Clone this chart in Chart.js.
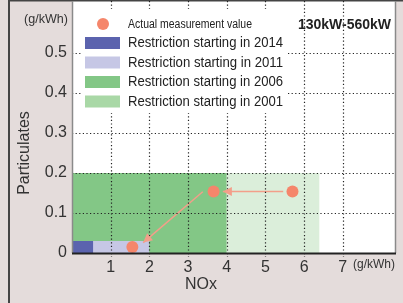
<!DOCTYPE html>
<html>
<head>
<meta charset="utf-8">
<script src="https://cdn.jsdelivr.net/npm/chart.js@4/dist/chart.umd.min.js"></script>
<style>
    html, body { margin: 0; padding: 0; background: #e4dcdb; }
    canvas { display: block; }
</style>
</head>
<body>
<canvas id="chart" width="403" height="303"></canvas>
<script>
// Tick values
const xTicks = [1, 2, 3, 4, 5, 6, 7];
const yTicks = [0, 0.1, 0.2, 0.3, 0.4, 0.5];

// Restriction areas (NOx limit, particulates limit), oldest at the back
const restrictionLabels = ['Restriction starting in 2014', 'Restriction starting in 2011',
    'Restriction starting in 2006', 'Restriction starting in 2001'];
const restrictionNox = [0.55, 2.0, 4.0, 6.4];
const restrictionPm = [0.03, 0.03, 0.2, 0.2];
const restrictionColors = ['#5b63ae', '#c6c7e5', '#83c786', '#dbeeda'];
const restrictionLegendColors = ['#5b63ae', '#c6c7e5', '#83c786', '#a9d8a6'];

// Actual measurement values
const measureLabel = 'Actual measurement value';
const measureNox = [1.56, 3.66, 5.70];
const measurePm = [0.015, 0.154, 0.154];

// Arrows between measurements (start -> end)
const arrowStartNox = [5.46, 3.38];
const arrowStartPm = [0.154, 0.153];
const arrowEndNox = [3.90, 1.84];
const arrowEndPm = [0.154, 0.026];

const FONT = '"Liberation Sans", Arial, sans-serif';
const POINT_COLOR = '#f5866b';
const ARROW_COLOR = '#f39f8a';

/**
 * Background, chart area and frame.
 */
const backgroundPlugin = {
    id: 'background',
    beforeDraw(chart) {
        const {ctx, chartArea: a} = chart;
        ctx.save();
        ctx.fillStyle = '#e4dcdb';
        ctx.fillRect(0, 0, chart.width, chart.height);
        ctx.fillStyle = '#ffffff';
        ctx.fillRect(a.left, 1, a.right - a.left, a.bottom - 1);
        ctx.strokeStyle = '#444';
        ctx.lineWidth = 2;
        ctx.beginPath();
        ctx.moveTo(9, chart.height);
        ctx.lineTo(9, 0.5);
        ctx.lineTo(chart.width, 0.5);
        ctx.stroke();
        ctx.restore();
    }
};

/**
 * Dotted grid over the areas, plus the axis lines.
 */
const gridPlugin = {
    id: 'dottedGrid',
    afterDatasetsDraw(chart) {
        const {ctx, chartArea: a, scales} = chart;
        ctx.save();
        ctx.strokeStyle = '#222';
        ctx.lineWidth = 1.2;
        ctx.setLineDash([1.2, 2.4]);
        ctx.beginPath();
        xTicks.forEach(v => {
            const x = Math.round(scales.x.getPixelForValue(v)) + 0.5;
            ctx.moveTo(x, 1);
            ctx.lineTo(x, a.bottom + 4);
        });
        yTicks.filter(v => v > 0).forEach(v => {
            const y = Math.round(scales.y.getPixelForValue(v)) + 0.5;
            ctx.moveTo(a.left, y);
            ctx.lineTo(a.right, y);
        });
        ctx.stroke();
        ctx.setLineDash([]);
        // left and right borders
        ctx.strokeStyle = '#8a8a8a';
        ctx.lineWidth = 1.5;
        ctx.beginPath();
        ctx.moveTo(a.left + 0.5, 1);
        ctx.lineTo(a.left + 0.5, a.bottom);
        ctx.moveTo(a.right + 0.5, 1);
        ctx.lineTo(a.right + 0.5, a.bottom);
        ctx.stroke();
        // bottom axis
        ctx.strokeStyle = '#222';
        ctx.lineWidth = 2;
        ctx.beginPath();
        ctx.moveTo(a.left, a.bottom + 0.5);
        ctx.lineTo(a.right + 1, a.bottom + 0.5);
        ctx.stroke();
        ctx.restore();
    }
};

/**
 * Arrow heads at the end of the arrow datasets.
 */
const arrowPlugin = {
    id: 'arrows',
    afterDatasetsDraw(chart) {
        const ctx = chart.ctx;
        chart.data.datasets.forEach((ds, i) => {
            if (!ds.isArrow) return;
            const pts = chart.getDatasetMeta(i).data;
            const p0 = pts[0], p1 = pts[1];
            const ang = Math.atan2(p1.y - p0.y, p1.x - p0.x);
            const len = 9, half = 4.5;
            ctx.save();
            ctx.fillStyle = ARROW_COLOR;
            ctx.translate(p1.x, p1.y);
            ctx.rotate(ang);
            ctx.beginPath();
            ctx.moveTo(0, 0);
            ctx.lineTo(-len, -half);
            ctx.lineTo(-len, half);
            ctx.closePath();
            ctx.fill();
            ctx.restore();
        });
    }
};

/**
 * Legend box, titles and units.
 */
const textPlugin = {
    id: 'texts',
    afterDraw(chart) {
        const ctx = chart.ctx;
        ctx.save();
        // legend box
        ctx.fillStyle = '#ffffff';
        ctx.fillRect(81, 9, 207, 104);
        ctx.fillStyle = POINT_COLOR;
        ctx.beginPath();
        ctx.arc(103, 24, 6, 0, Math.PI * 2);
        ctx.fill();
        ctx.fillStyle = '#222';
        ctx.textBaseline = 'middle';
        ctx.textAlign = 'left';
        ctx.font = '12.5px ' + FONT;
        ctx.fillText(measureLabel, 128, 25, 124);
        ctx.font = '14px ' + FONT;
        restrictionLabels.forEach((label, i) => {
            const y = 43 + i * 19.5;
            ctx.fillStyle = restrictionLegendColors[i];
            ctx.fillRect(85, y - 6, 35, 12);
            ctx.fillStyle = '#222';
            ctx.fillText(label, 128, y + 0.5, 155);
        });
        // range label
        ctx.font = 'bold 14px ' + FONT;
        ctx.textAlign = 'right';
        ctx.fillText('130kW-560kW', 391, 25);
        // units
        ctx.fillStyle = '#333';
        ctx.font = '13px ' + FONT;
        ctx.textAlign = 'center';
        ctx.fillText('(g/kWh)', 46, 19, 44);
        ctx.fillText('(g/kWh)', 374, 264, 42);
        // axis titles
        ctx.font = '16px ' + FONT;
        ctx.fillText('NOx', 201, 285);
        ctx.translate(25, 153);
        ctx.rotate(-Math.PI / 2);
        ctx.fillText('Particulates', 0, 0);
        ctx.restore();
    }
};

const datasets = [{
    type: 'scatter',
    label: measureLabel,
    data: measureNox.map((x, i) => ({x: x, y: measurePm[i]})),
    backgroundColor: POINT_COLOR,
    borderWidth: 0,
    pointRadius: 6,
    showLine: false
}];
arrowStartNox.forEach((x, i) => {
    datasets.push({
        type: 'line',
        isArrow: true,
        data: [{x: x, y: arrowStartPm[i]}, {x: arrowEndNox[i], y: arrowEndPm[i]}],
        borderColor: ARROW_COLOR,
        borderWidth: 1.5,
        pointRadius: 0,
        fill: false
    });
});
restrictionLabels.forEach((label, i) => {
    datasets.push({
        type: 'line',
        label: label,
        data: [{x: 0, y: restrictionPm[i]}, {x: restrictionNox[i], y: restrictionPm[i]}],
        backgroundColor: restrictionColors[i],
        borderWidth: 0,
        pointRadius: 0,
        fill: 'origin'
    });
});

document.addEventListener('DOMContentLoaded', function() {
    new Chart(document.getElementById('chart').getContext('2d'), {
        type: 'scatter',
        data: {datasets: datasets},
        plugins: [backgroundPlugin, gridPlugin, arrowPlugin, textPlugin],
        options: {
            responsive: false,
            devicePixelRatio: 1,
            animation: false,
            events: [],
            layout: {padding: {left: 10, right: 8, top: 1, bottom: 0}},
            plugins: {legend: {display: false}, tooltip: {enabled: false}},
            scales: {
                x: {
                    type: 'linear',
                    min: 0,
                    max: 8.35,
                    afterBuildTicks: s => { s.ticks = xTicks.map(v => ({value: v})); },
                    afterFit: s => { s.height = 50; s.paddingLeft = 0; s.paddingRight = 0; },
                    grid: {display: false, drawTicks: false},
                    border: {display: false},
                    ticks: {
                        color: '#333', padding: 5, maxRotation: 0,
                        font: {size: 16, family: FONT},
                        callback: v => String(v)
                    }
                },
                y: {
                    type: 'linear',
                    min: 0,
                    max: 0.6175,
                    afterBuildTicks: s => { s.ticks = yTicks.map(v => ({value: v})); },
                    afterFit: s => { s.width = 62; s.paddingTop = 0; s.paddingBottom = 0; },
                    grid: {display: false, drawTicks: false},
                    border: {display: false},
                    ticks: {
                        color: '#333', padding: 5,
                        font: {size: 16, family: FONT},
                        callback: v => String(v)
                    }
                }
            }
        }
    });
});
</script>
</body>
</html>
